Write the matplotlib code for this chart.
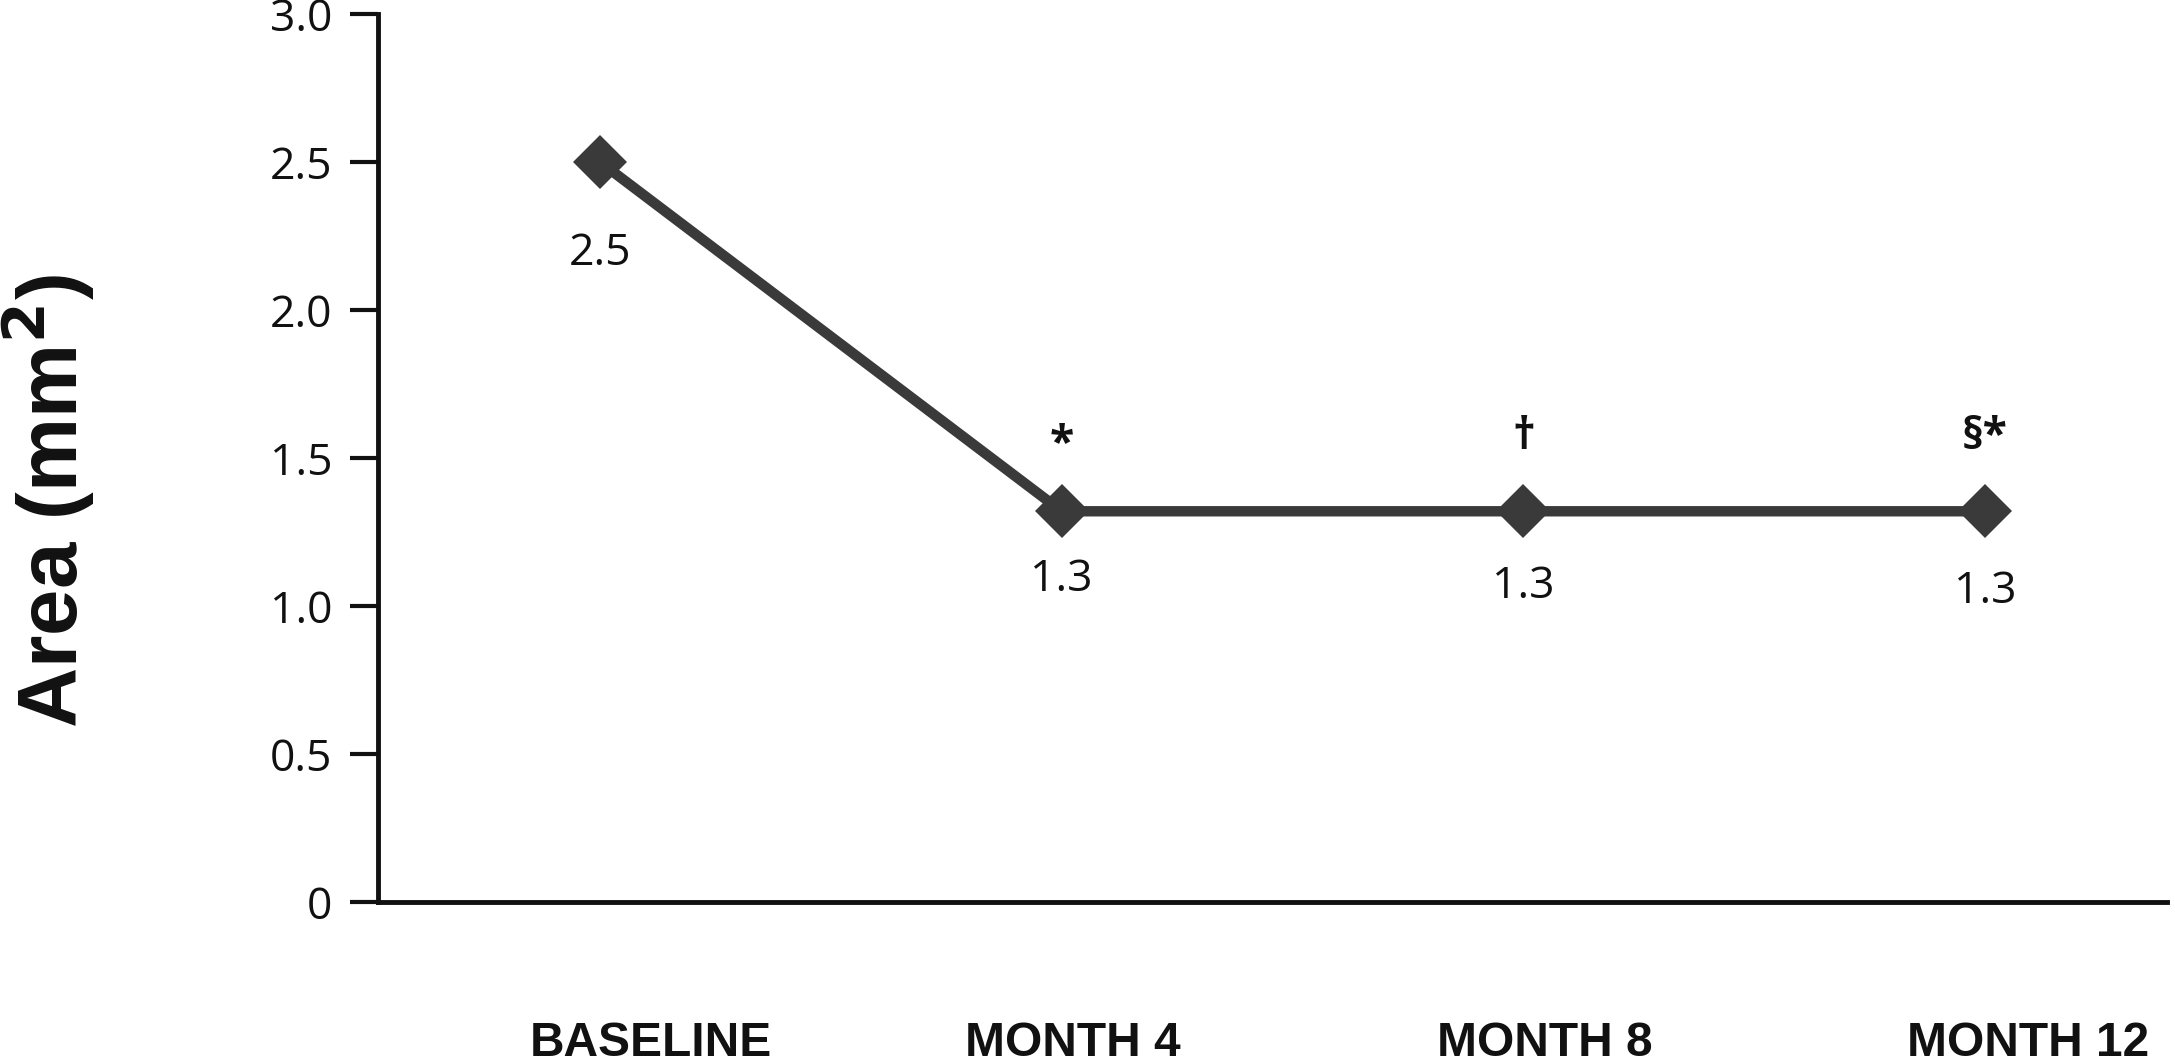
import matplotlib
matplotlib.use("Agg")
import matplotlib.pyplot as plt
import matplotlib.transforms as mtransforms

# data
timepoints = ["BASELINE", "MONTH 4", "MONTH 8", "MONTH 12"]
area_mm2 = [2.5, 1.32, 1.32, 1.32]
value_labels = ["2.5", "1.3", "1.3", "1.3"]
sig_marks = ["", "*", "\u2020", "\u00a7*"]
y_ticks = [0, 0.5, 1.0, 1.5, 2.0, 2.5, 3.0]
y_ticklabels = ["0", "0.5", "1.0", "1.5", "2.0", "2.5", "3.0"]

line_color = "#3a3a3a"
num_font = "Open Sans"
bold_font = "Liberation Sans"

# label placement (points), as in the original figure
below_offsets = [66, 49, 54, 58]
above_offsets = [0, 48, 53, 53]
xlabel_shift_px = [51, 11, 21, 43]

fig = plt.figure(figsize=(21.75, 10.63), dpi=100)
ax = fig.add_axes([0.1738, 0.1515, 0.8225, 0.8353])

x = list(range(len(timepoints)))
ax.plot(x, area_mm2, color=line_color, linewidth=7.5, marker="D",
        markersize=27, markerfacecolor=line_color, markeredgewidth=0,
        solid_capstyle="butt", zorder=5, clip_on=False)

# value labels below each point, significance marks above
for xi, yi, lab, mark, dn, up in zip(x, area_mm2, value_labels, sig_marks,
                                     below_offsets, above_offsets):
    ax.annotate(lab, (xi, yi), xytext=(0, -dn), textcoords="offset points",
                ha="center", va="center", fontsize=32, family=num_font,
                color="#111111")
    if mark:
        ax.annotate(mark, (xi, yi), xytext=(0, up), textcoords="offset points",
                    ha="center", va="center", fontsize=32, family=num_font,
                    fontweight="bold", color="#111111")

ax.set_xlim(-0.481, 3.394)
ax.set_ylim(0, 3.0)

ax.spines["top"].set_visible(False)
ax.spines["right"].set_visible(False)
for side in ("left", "bottom"):
    ax.spines[side].set_linewidth(3.5)
    ax.spines[side].set_color("#111111")

ax.set_yticks(y_ticks)
ax.set_yticklabels(y_ticklabels, family=num_font, fontsize=32, color="#111111")
ax.tick_params(axis="y", direction="out", length=20, width=3, pad=13,
               color="#111111")

ax.set_xticks(x)
ax.set_xticklabels(timepoints, family=bold_font, fontweight="bold",
                   fontsize=34.5, color="#111111")
ax.tick_params(axis="x", length=0, pad=86)
for lbl, dx in zip(ax.get_xticklabels(), xlabel_shift_px):
    shift = mtransforms.ScaledTranslation(dx / 100, 0, fig.dpi_scale_trans)
    lbl.set_transform(lbl.get_transform() + shift)

ax.set_ylabel("Area (mm$^{\\mathbf{2}}$)", family=bold_font, fontweight="bold",
              fontsize=60, color="#111111")
ax.yaxis.set_label_coords(-0.157, 0.452)

fig.savefig("out.png", dpi=100, facecolor="white")
